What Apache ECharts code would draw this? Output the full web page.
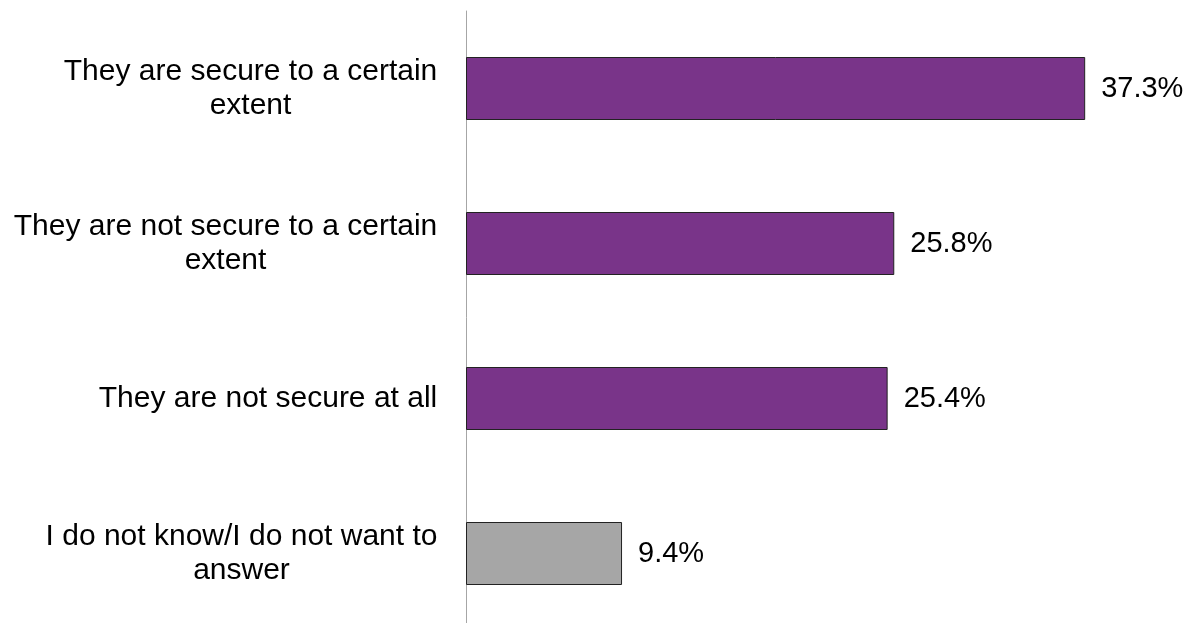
<!DOCTYPE html>
<html><head><meta charset="utf-8">
<script src="https://cdn.jsdelivr.net/npm/echarts@6/dist/echarts.min.js"></script>
<style>html,body{margin:0;padding:0;background:#fff}#c{width:1185px;height:623px}</style>
</head><body><div id="c"></div>
<script>
const categories = [
  ["They are secure to a certain", "extent"],
  ["They are not secure to a certain", "extent"],
  ["They are not secure at all"],
  ["I do not know/I do not want to", "answer"]
];
const values = [37.3, 25.8, 25.4, 9.4];
const barColors = ["#793489", "#793489", "#793489", "#a6a6a6"];

const FONT_SIZE = 30;
const VAL_FONT_SIZE = 29;
const FONT_FAMILY = "Liberation Sans";
const cv = document.createElement('canvas').getContext('2d');
cv.font = FONT_SIZE + 'px "' + FONT_FAMILY + '"';
const rich = {};
categories.forEach((lines, i) => {
  const w = Math.max(...lines.map(l => cv.measureText(l).width));
  rich['c' + i] = { width: Math.ceil(w) + 1, align: 'center', fontSize: FONT_SIZE, fontFamily: FONT_FAMILY, color: '#000', lineHeight: 34 };
});
const catNames = categories.map(l => l.join('\n'));

const chart = echarts.init(document.getElementById('c'));
chart.setOption({
  animation: false,
  grid: { left: 466, width: 664, top: 11, height: 620, containLabel: false, outerBoundsMode: 'none' },
  xAxis: { type: 'value', min: 0, max: 40, show: false },
  yAxis: {
    type: 'category', inverse: true, data: catNames,
    axisLine: { lineStyle: { color: '#a6a6a6', width: 1 } },
    axisTick: { show: false },
    axisLabel: {
      margin: 28, align: 'right',
      formatter: (v, idx) => v.split('\n').map(l => '{c' + idx + '|' + l + '}').join('\n'),
      rich: rich
    }
  },
  series: [{
    type: 'bar', barWidth: 63,
    data: values.map((v, i) => ({ value: v, itemStyle: { color: barColors[i] } })),
    itemStyle: { borderColor: '#222', borderWidth: 1 },
    label: { show: true, position: 'right', distance: 16, fontSize: VAL_FONT_SIZE, fontFamily: FONT_FAMILY, color: '#000', formatter: p => p.value.toFixed(1) + '%' }
  }]
});
</script></body></html>
